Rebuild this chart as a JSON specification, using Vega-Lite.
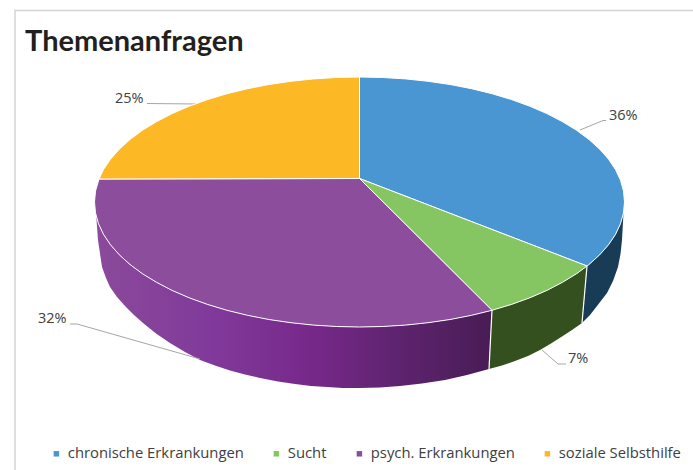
{
"$schema":"https://vega.github.io/schema/vega-lite/v6.json",
"width":693,"height":470,"padding":0,"autosize":"none","background":"white",
"title":{"text":"Themenanfragen","anchor":"start","frame":"group","dx":25,"offset":-57,"fontSize":29,"font":"Lato","fontWeight":"bold","color":"#231F20"},
"config":{"view":{"stroke":null}},
"datasets":{
"anteile":[
{"thema":"chronische Erkrankungen","anteil":0.36,"x":609,"y":116},
{"thema":"Sucht","anteil":0.07,"x":568,"y":359},
{"thema":"psych. Erkrankungen","anteil":0.32,"x":38,"y":319},
{"thema":"soziale Selbsthilfe","anteil":0.25,"x":115,"y":99}
],
"rahmen":[{"i":0,"x":15,"y":470},{"i":1,"x":15,"y":10.5},{"i":2,"x":693,"y":10.5}],
"leitlinien":[
{"l":"a","i":0,"x":580,"y":130},{"l":"a","i":1,"x":603,"y":120.5},{"l":"a","i":2,"x":606,"y":120.5},
{"l":"b","i":0,"x":542,"y":350},{"l":"b","i":1,"x":558,"y":364},{"l":"b","i":2,"x":566,"y":364},
{"l":"c","i":0,"x":70,"y":324},{"l":"c","i":1,"x":77,"y":324},{"l":"c","i":2,"x":200,"y":359},
{"l":"d","i":0,"x":147,"y":103.5},{"l":"d","i":1,"x":197,"y":104}
],
"trenner":[{"x":587,"y":266,"x2":582,"y2":323},{"x":492,"y":310,"x2":489,"y2":369}],
"waende":[
{"w":"b","x":623.5,"y":212.9},{"w":"b","x":620.5,"y":223.7},{"w":"b","x":615.5,"y":234.4},{"w":"b","x":608.5,"y":244.8},{"w":"b","x":599.7,"y":254.8},{"w":"b","x":589,"y":264.5},{"w":"b","x":587,"y":266},{"w":"b","x":582,"y":323},{"w":"b","x":590,"y":315},{"w":"b","x":597,"y":306},{"w":"b","x":607,"y":293},{"w":"b","x":613,"y":281},{"w":"b","x":618,"y":267},{"w":"b","x":620.5,"y":254},{"w":"b","x":622,"y":240},{"w":"b","x":623.5,"y":212.9},
{"w":"g","x":587,"y":266},{"w":"g","x":576.6,"y":273.7},{"w":"g","x":562.5,"y":282.3},{"w":"g","x":546.9,"y":290.4},{"w":"g","x":529.8,"y":297.8},{"w":"g","x":511.5,"y":304.4},{"w":"g","x":492,"y":310.3},{"w":"g","x":489,"y":369},{"w":"g","x":502,"y":365.5},{"w":"g","x":515,"y":361},{"w":"g","x":528,"y":356},{"w":"g","x":540,"y":350},{"w":"g","x":551,"y":343.5},{"w":"g","x":562,"y":336.5},{"w":"g","x":572,"y":330},{"w":"g","x":582,"y":323},{"w":"g","x":587,"y":266},
{"w":"p","x":492,"y":310.3},{"w":"p","x":471.5,"y":315.3},{"w":"p","x":450.1,"y":319.5},{"w":"p","x":428.1,"y":322.7},{"w":"p","x":405.5,"y":325.1},{"w":"p","x":382.6,"y":326.5},{"w":"p","x":359.5,"y":327},{"w":"p","x":336.4,"y":326.5},{"w":"p","x":313.5,"y":325.1},{"w":"p","x":290.9,"y":322.7},{"w":"p","x":268.9,"y":319.5},{"w":"p","x":247.5,"y":315.3},{"w":"p","x":227,"y":310.3},{"w":"p","x":207.5,"y":304.4},{"w":"p","x":189.2,"y":297.8},{"w":"p","x":172.1,"y":290.4},{"w":"p","x":156.5,"y":282.3},{"w":"p","x":142.4,"y":273.7},{"w":"p","x":130,"y":264.5},{"w":"p","x":119.3,"y":254.8},{"w":"p","x":110.5,"y":244.8},{"w":"p","x":103.5,"y":234.4},{"w":"p","x":98.5,"y":223.7},{"w":"p","x":96,"y":213},{"w":"p","x":98,"y":240},{"w":"p","x":102,"y":267},{"w":"p","x":106,"y":278},{"w":"p","x":110,"y":287},{"w":"p","x":117,"y":297},{"w":"p","x":125,"y":306},{"w":"p","x":134,"y":315},{"w":"p","x":143,"y":323},{"w":"p","x":156,"y":333.5},{"w":"p","x":170,"y":343},{"w":"p","x":185,"y":352},{"w":"p","x":200,"y":360},{"w":"p","x":215,"y":365.5},{"w":"p","x":230,"y":370.5},{"w":"p","x":245,"y":374.5},{"w":"p","x":260,"y":378},{"w":"p","x":278,"y":381.5},{"w":"p","x":295,"y":384},{"w":"p","x":311,"y":386},{"w":"p","x":327,"y":387},{"w":"p","x":343,"y":388},{"w":"p","x":360,"y":388},{"w":"p","x":380,"y":387.5},{"w":"p","x":400,"y":386},{"w":"p","x":422,"y":383.5},{"w":"p","x":445,"y":380},{"w":"p","x":467,"y":375},{"w":"p","x":489,"y":369},{"w":"p","x":492,"y":310.3}
],
"flaechen":[
{"thema":"chronische Erkrankungen","x":359.5,"y":178.5},{"thema":"chronische Erkrankungen","x":359.5,"y":77},{"thema":"chronische Erkrankungen","x":382.6,"y":77.5},{"thema":"chronische Erkrankungen","x":405.5,"y":78.9},{"thema":"chronische Erkrankungen","x":428.1,"y":81.3},{"thema":"chronische Erkrankungen","x":450.1,"y":84.5},{"thema":"chronische Erkrankungen","x":471.5,"y":88.7},{"thema":"chronische Erkrankungen","x":492,"y":93.7},{"thema":"chronische Erkrankungen","x":511.5,"y":99.6},{"thema":"chronische Erkrankungen","x":529.8,"y":106.2},{"thema":"chronische Erkrankungen","x":546.9,"y":113.6},{"thema":"chronische Erkrankungen","x":562.5,"y":121.7},{"thema":"chronische Erkrankungen","x":576.6,"y":130.3},{"thema":"chronische Erkrankungen","x":589,"y":139.5},{"thema":"chronische Erkrankungen","x":599.7,"y":149.2},{"thema":"chronische Erkrankungen","x":608.5,"y":159.2},{"thema":"chronische Erkrankungen","x":615.5,"y":169.6},{"thema":"chronische Erkrankungen","x":620.5,"y":180.3},{"thema":"chronische Erkrankungen","x":623.5,"y":191.1},{"thema":"chronische Erkrankungen","x":624.5,"y":202},{"thema":"chronische Erkrankungen","x":623.5,"y":212.9},{"thema":"chronische Erkrankungen","x":620.5,"y":223.7},{"thema":"chronische Erkrankungen","x":615.5,"y":234.4},{"thema":"chronische Erkrankungen","x":608.5,"y":244.8},{"thema":"chronische Erkrankungen","x":599.7,"y":254.8},{"thema":"chronische Erkrankungen","x":589,"y":264.5},{"thema":"chronische Erkrankungen","x":587,"y":266},{"thema":"chronische Erkrankungen","x":359.5,"y":178.5},
{"thema":"Sucht","x":359.5,"y":178.5},{"thema":"Sucht","x":587,"y":266},{"thema":"Sucht","x":576.6,"y":273.7},{"thema":"Sucht","x":562.5,"y":282.3},{"thema":"Sucht","x":546.9,"y":290.4},{"thema":"Sucht","x":529.8,"y":297.8},{"thema":"Sucht","x":511.5,"y":304.4},{"thema":"Sucht","x":492,"y":310.3},{"thema":"Sucht","x":359.5,"y":178.5},
{"thema":"psych. Erkrankungen","x":359.5,"y":178.5},{"thema":"psych. Erkrankungen","x":492,"y":310.3},{"thema":"psych. Erkrankungen","x":471.5,"y":315.3},{"thema":"psych. Erkrankungen","x":450.1,"y":319.5},{"thema":"psych. Erkrankungen","x":428.1,"y":322.7},{"thema":"psych. Erkrankungen","x":405.5,"y":325.1},{"thema":"psych. Erkrankungen","x":382.6,"y":326.5},{"thema":"psych. Erkrankungen","x":359.5,"y":327},{"thema":"psych. Erkrankungen","x":336.4,"y":326.5},{"thema":"psych. Erkrankungen","x":313.5,"y":325.1},{"thema":"psych. Erkrankungen","x":290.9,"y":322.7},{"thema":"psych. Erkrankungen","x":268.9,"y":319.5},{"thema":"psych. Erkrankungen","x":247.5,"y":315.3},{"thema":"psych. Erkrankungen","x":227,"y":310.3},{"thema":"psych. Erkrankungen","x":207.5,"y":304.4},{"thema":"psych. Erkrankungen","x":189.2,"y":297.8},{"thema":"psych. Erkrankungen","x":172.1,"y":290.4},{"thema":"psych. Erkrankungen","x":156.5,"y":282.3},{"thema":"psych. Erkrankungen","x":142.4,"y":273.7},{"thema":"psych. Erkrankungen","x":130,"y":264.5},{"thema":"psych. Erkrankungen","x":119.3,"y":254.8},{"thema":"psych. Erkrankungen","x":110.5,"y":244.8},{"thema":"psych. Erkrankungen","x":103.5,"y":234.4},{"thema":"psych. Erkrankungen","x":98.5,"y":223.7},{"thema":"psych. Erkrankungen","x":95.5,"y":212.9},{"thema":"psych. Erkrankungen","x":94.5,"y":202},{"thema":"psych. Erkrankungen","x":95.5,"y":191.1},{"thema":"psych. Erkrankungen","x":99,"y":179},{"thema":"psych. Erkrankungen","x":359.5,"y":178.5},
{"thema":"soziale Selbsthilfe","x":359.5,"y":178.5},{"thema":"soziale Selbsthilfe","x":99,"y":179},{"thema":"soziale Selbsthilfe","x":103.5,"y":169.6},{"thema":"soziale Selbsthilfe","x":110.5,"y":159.2},{"thema":"soziale Selbsthilfe","x":119.3,"y":149.2},{"thema":"soziale Selbsthilfe","x":130,"y":139.5},{"thema":"soziale Selbsthilfe","x":142.4,"y":130.3},{"thema":"soziale Selbsthilfe","x":156.5,"y":121.7},{"thema":"soziale Selbsthilfe","x":172.1,"y":113.6},{"thema":"soziale Selbsthilfe","x":189.2,"y":106.2},{"thema":"soziale Selbsthilfe","x":207.5,"y":99.6},{"thema":"soziale Selbsthilfe","x":227,"y":93.7},{"thema":"soziale Selbsthilfe","x":247.5,"y":88.7},{"thema":"soziale Selbsthilfe","x":268.9,"y":84.5},{"thema":"soziale Selbsthilfe","x":290.9,"y":81.3},{"thema":"soziale Selbsthilfe","x":313.5,"y":78.9},{"thema":"soziale Selbsthilfe","x":336.4,"y":77.5},{"thema":"soziale Selbsthilfe","x":359.5,"y":77},{"thema":"soziale Selbsthilfe","x":359.5,"y":178.5}
]
},
"encoding":{
"x":{"field":"x","type":"quantitative","scale":{"domain":[0,693],"nice":false,"zero":false},"axis":null},
"y":{"field":"y","type":"quantitative","scale":{"domain":[470,0],"nice":false,"zero":false},"axis":null}
},
"layer":[
{"data":{"name":"rahmen"},"mark":{"type":"line","stroke":"#D3D3D3","strokeWidth":1.5},"encoding":{"order":{"field":"i"}}},
{"data":{"name":"waende"},"transform":[{"filter":"datum.w==='b'"},{"window":[{"op":"row_number","as":"n"}]}],"mark":{"type":"line","fill":"#193C56","strokeWidth":0},"encoding":{"order":{"field":"n"}}},
{"data":{"name":"waende"},"transform":[{"filter":"datum.w==='g'"},{"window":[{"op":"row_number","as":"n"}]}],"mark":{"type":"line","fill":"#34501F","strokeWidth":0},"encoding":{"order":{"field":"n"}}},
{"data":{"name":"waende"},"transform":[{"filter":"datum.w==='p'"},{"window":[{"op":"row_number","as":"n"}]}],"mark":{"type":"line","strokeWidth":0,"fill":{"gradient":"linear","x1":0,"y1":0,"x2":1,"y2":0,"stops":[{"offset":0,"color":"#8B4A9B"},{"offset":0.3,"color":"#80399A"},{"offset":0.55,"color":"#762889"},{"offset":0.75,"color":"#5F2470"},{"offset":1,"color":"#481C55"}]}},"encoding":{"order":{"field":"n"}}},
{"data":{"name":"leitlinien"},"mark":{"type":"line","stroke":"#A6A6A6","strokeWidth":1},"encoding":{"detail":{"field":"l"},"order":{"field":"i"}}},
{"data":{"name":"flaechen"},"transform":[{"window":[{"op":"row_number","as":"n"}]}],"mark":{"type":"line","stroke":"#FFFFFF","strokeWidth":1},
 "encoding":{"order":{"field":"n"},"fill":{"field":"thema","type":"nominal",
  "scale":{"domain":["chronische Erkrankungen","Sucht","psych. Erkrankungen","soziale Selbsthilfe"],"range":["#4A96D2","#85C562","#8C4D9C","#FDB925"]},
  "legend":{"title":null,"orient":"none","direction":"horizontal","columns":4,"legendX":49,"legendY":446,"symbolType":"square","symbolSize":30,"symbolStrokeWidth":0,"labelFont":"Open Sans","labelFontSize":14.8,"labelColor":"#404040","columnPadding":25,"labelOffset":4,"labelLimit":300}}}},
{"data":{"name":"trenner"},"mark":{"type":"rule","stroke":"#FFFFFF","strokeWidth":1.2},"encoding":{"x2":{"field":"x2"},"y2":{"field":"y2"}}},
{"data":{"name":"anteile"},"mark":{"type":"text","align":"left","baseline":"middle","font":"Open Sans","fontSize":14.5,"fill":"#404040"},"encoding":{"text":{"field":"anteil","type":"quantitative","format":".0%"}}}
]
}
